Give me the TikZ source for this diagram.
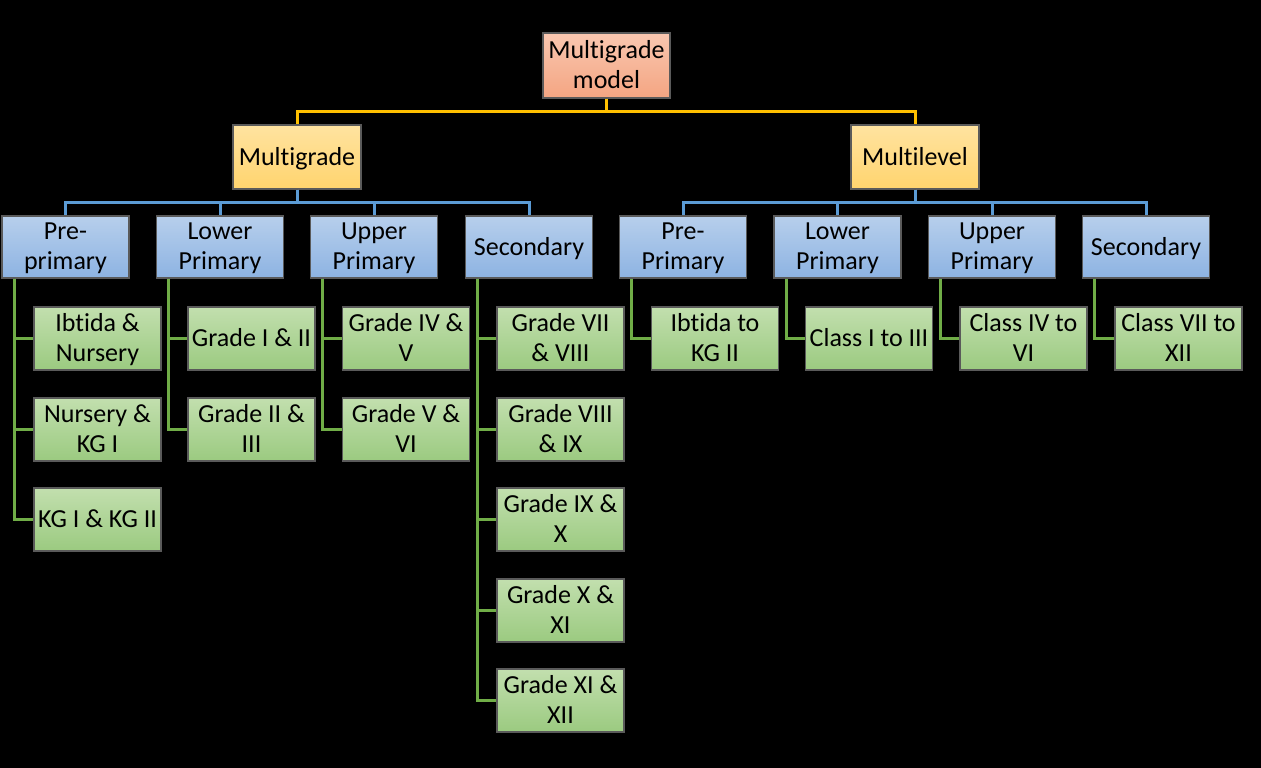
\documentclass[tikz,border=0pt]{standalone}
\usepackage{fontspec}
\setmainfont{Carlito}[Ligatures=NoCommon]
\usepackage{tikz}

\definecolor{rootTop}{HTML}{F9C7B0}
\definecolor{rootBot}{HTML}{F4A582}
\definecolor{orgTop}{HTML}{FFE3A0}
\definecolor{orgBot}{HTML}{FFD46E}
\definecolor{bluTop}{HTML}{B7CFEC}
\definecolor{bluBot}{HTML}{8DB3E2}
\definecolor{grnTop}{HTML}{C2DFAE}
\definecolor{grnBot}{HTML}{9BCA80}
\definecolor{yline}{HTML}{FFC000}
\definecolor{bline}{HTML}{5B9BD5}
\definecolor{gline}{HTML}{70AD47}
\definecolor{edge}{HTML}{5A5A5A}

\begin{document}
\begin{tikzpicture}[x=1pt, y=-1pt,
	box/.style={draw=edge, line width=1.2pt, rectangle, align=center,
		minimum width=127pt, font=\fontsize{26}{30}\selectfont, inner sep=0pt, text depth=2pt},
	top/.style={box, minimum height=65pt, top color=rootTop, bottom color=rootBot},
	mid/.style={box, minimum width=128pt, minimum height=64pt, top color=orgTop, bottom color=orgBot},
	sub/.style={box, minimum height=62pt, top color=bluTop, bottom color=bluBot},
	leaf/.style={box, minimum height=63pt, top color=grnTop, bottom color=grnBot},
	ylink/.style={draw=yline, line width=3pt},
	blink/.style={draw=bline, line width=3pt},
	glink/.style={draw=gline, line width=3pt}]
	\fill[black] (0,0) rectangle (1261,768);

	\node (model) at (606.5,65.5) [top] {Multigrade\\model};
	\node (mgrade) at (297,157) [mid] {Multigrade};
	\node (mlevel) at (915,157) [mid] {Multilevel};

		\node (gpre) at (65.5,247) [sub] {Pre-\\primary};
		\node (glow) at (220,247) [sub] {Lower\\Primary};
		\node (gup) at (374,247) [sub] {Upper\\Primary};
		\node (gsec) at (529,247) [sub] {Secondary};
		\node (lpre) at (683,247) [sub] {Pre-\\Primary};
		\node (llow) at (837.5,247) [sub] {Lower\\Primary};
		\node (lup) at (992,247) [sub] {Upper\\Primary};
		\node (lsec) at (1146,247) [sub] {Secondary};

			\node (gpre1) at (97.5,338.5) [leaf] {Ibtida \&\\Nursery};
			\node (gpre2) at (97.5,429.5) [leaf] {Nursery \&\\KG I};
			\node (gpre3) at (97.5,519.5) [leaf] {KG I \& KG II};
			\node (glow1) at (251.5,338.5) [leaf] {Grade I \& II};
			\node (glow2) at (251.5,429.5) [leaf] {Grade II \&\\III};
			\node (gup1) at (406,338.5) [leaf] {Grade IV \&\\V};
			\node (gup2) at (406,429.5) [leaf] {Grade V \&\\VI};
			\node (gsec1) at (560.5,338.5) [leaf] {Grade VII\\\& VIII};
			\node (gsec2) at (560.5,429.5) [leaf] {Grade VIII\\\& IX};
			\node (gsec3) at (560.5,519.5) [leaf] {Grade IX \&\\X};
			\node (gsec4) at (560.5,610.5) [leaf] {Grade X \&\\XI};
			\node (gsec5) at (560.5,700.5) [leaf] {Grade XI \&\\XII};
			\node (lpre1) at (715,338.5) [leaf] {Ibtida to\\KG II};
			\node (llow1) at (869,338.5) [leaf] {Class I to III};
			\node (lup1) at (1023.5,338.5) [leaf] {Class IV to\\VI};
			\node (lsec1) at (1178.5,338.5) [leaf] {Class VII to\\XII};

	\draw[ylink] (model.south) -- ++(0,13) -| (mgrade.north);
	\draw[ylink] (model.south) -- ++(0,13) -| (mlevel.north);
	\draw[blink] (mgrade.south) -- ++(0,13) -| (gpre.north);
	\draw[blink] (mgrade.south) -- ++(0,13) -| (glow.north);
	\draw[blink] (mgrade.south) -- ++(0,13) -| (gup.north);
	\draw[blink] (mgrade.south) -- ++(0,13) -| (gsec.north);
	\draw[blink] (mlevel.south) -- ++(0,13) -| (lpre.north);
	\draw[blink] (mlevel.south) -- ++(0,13) -| (llow.north);
	\draw[blink] (mlevel.south) -- ++(0,13) -| (lup.north);
	\draw[blink] (mlevel.south) -- ++(0,13) -| (lsec.north);
	\draw[glink] ([xshift=13pt]gpre.south west) |- (gpre1.west);
	\draw[glink] ([xshift=13pt]gpre.south west) |- (gpre2.west);
	\draw[glink] ([xshift=13pt]gpre.south west) |- (gpre3.west);
	\draw[glink] ([xshift=13pt]glow.south west) |- (glow1.west);
	\draw[glink] ([xshift=13pt]glow.south west) |- (glow2.west);
	\draw[glink] ([xshift=13pt]gup.south west) |- (gup1.west);
	\draw[glink] ([xshift=13pt]gup.south west) |- (gup2.west);
	\draw[glink] ([xshift=13pt]gsec.south west) |- (gsec1.west);
	\draw[glink] ([xshift=13pt]gsec.south west) |- (gsec2.west);
	\draw[glink] ([xshift=13pt]gsec.south west) |- (gsec3.west);
	\draw[glink] ([xshift=13pt]gsec.south west) |- (gsec4.west);
	\draw[glink] ([xshift=13pt]gsec.south west) |- (gsec5.west);
	\draw[glink] ([xshift=13pt]lpre.south west) |- (lpre1.west);
	\draw[glink] ([xshift=13pt]llow.south west) |- (llow1.west);
	\draw[glink] ([xshift=13pt]lup.south west) |- (lup1.west);
	\draw[glink] ([xshift=13pt]lsec.south west) |- (lsec1.west);
\end{tikzpicture}
\end{document}
